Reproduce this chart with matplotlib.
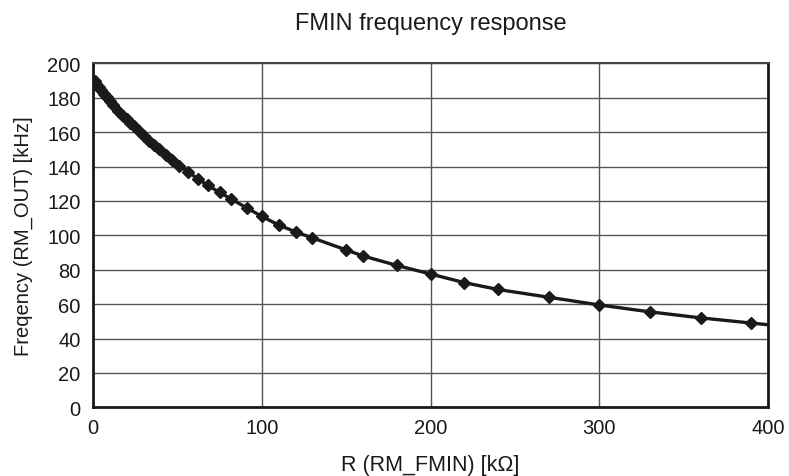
import matplotlib
matplotlib.use("Agg")
import matplotlib.pyplot as plt

plt.rcParams['font.family'] = ['Liberation Sans', 'DejaVu Sans']

title = "FMIN frequency response"
xlabel = "R (RM_FMIN) [k\u03a9]"
ylabel = "Freqency (RM_OUT) [kHz]"

r_kohm = [1, 2, 3.3, 4.7, 6.8, 8.2, 10, 12, 15, 18, 20, 22, 24, 27, 30, 33, 36, 39,
          43, 47, 51, 56, 62, 68, 75, 82, 91, 100, 110, 120, 130, 150, 160, 180,
          200, 220, 240, 270, 300, 330, 360, 390, 400]
f_khz = [189.5, 188, 186, 184.5, 182, 180.5, 178, 176, 172.5, 169.5, 167.5, 165.5,
         163.5, 160.5, 157.5, 155, 152.5, 150, 146.5, 143.5, 140.5, 137, 133, 129,
         125, 121, 116, 111, 106, 102, 98.5, 91.5, 88, 82.5, 77.5, 72.5, 68.5, 64,
         59.5, 55.5, 52, 49, 48]

xticks = [0, 100, 200, 300, 400]
yticks = list(range(0, 201, 20))

fig = plt.figure(figsize=(7.89, 4.77), dpi=100)
ax = fig.add_axes([0.1179, 0.144, 0.8555, 0.7212])

ax.plot(r_kohm, f_khz, color='#1a1a1a', lw=2.4, marker='D', ms=6,
        markevery=list(range(len(r_kohm) - 1)), zorder=3)

ax.set_xlim(0, 400)
ax.set_ylim(0, 200)
ax.set_xticks(xticks)
ax.set_yticks(yticks)
ax.grid(True, color='#555555', lw=1.0)
ax.tick_params(length=0, labelsize=14.5, colors='#1a1a1a')
ax.tick_params(axis='y', pad=9)
ax.tick_params(axis='x', pad=8)
for s in ['left', 'bottom', 'right']:
    ax.spines[s].set_linewidth(2.0)
    ax.spines[s].set_color('#1a1a1a')
ax.spines['top'].set_linewidth(1.5)
ax.spines['top'].set_color('#444444')

ax.set_title(title, fontsize=17, pad=25, color='#1a1a1a')
ax.set_xlabel(xlabel, fontsize=15.5, labelpad=12, color='#1a1a1a')
ax.set_ylabel(ylabel, fontsize=14.5, labelpad=10, color='#1a1a1a')

fig.savefig("out.png", dpi=100)
